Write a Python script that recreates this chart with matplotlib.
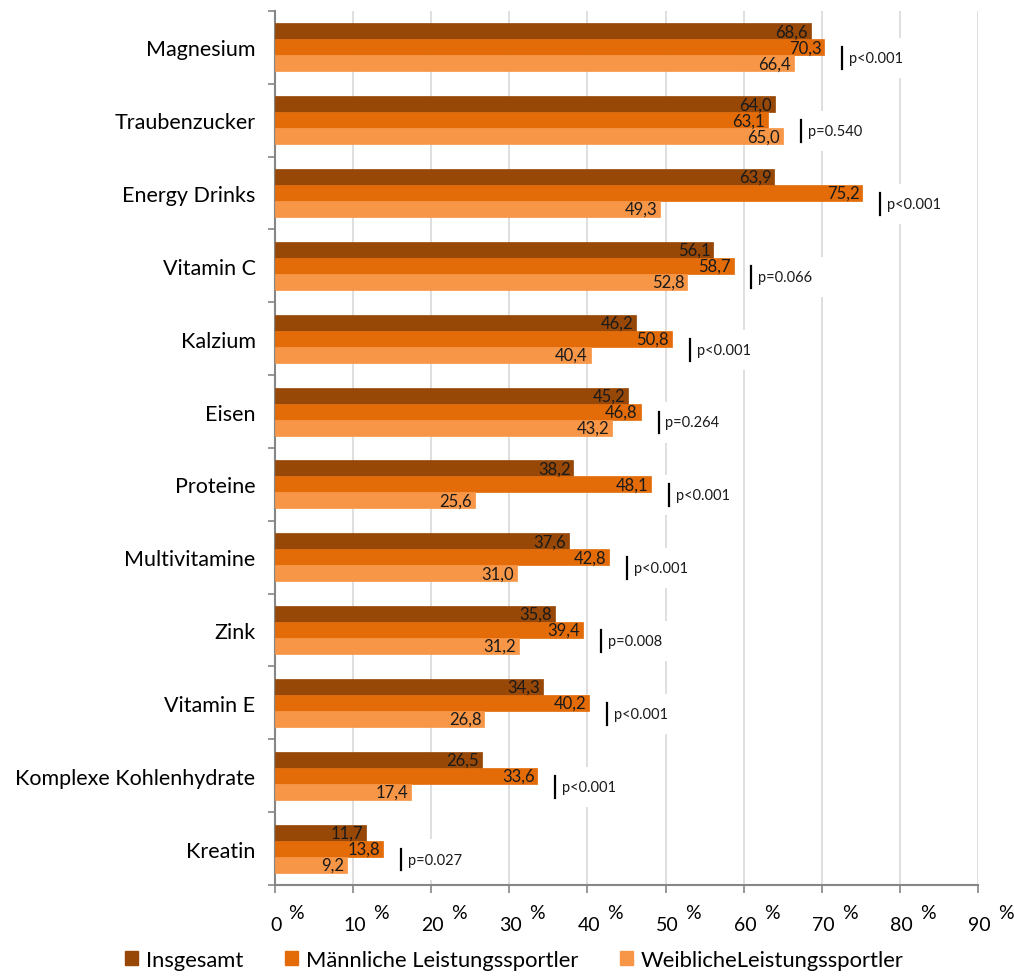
import numpy as np
import matplotlib
matplotlib.use("Agg")
import matplotlib.pyplot as plt
from matplotlib.patches import Patch

plt.rcParams['font.family'] = ['Lato', 'DejaVu Sans']

# Supplement use in percent
categories = ["Magnesium", "Traubenzucker", "Energy Drinks", "Vitamin C", "Kalzium",
              "Eisen", "Proteine", "Multivitamine", "Zink", "Vitamin E",
              "Komplexe Kohlenhydrate", "Kreatin"]
gesamt = [68.6, 64.0, 63.9, 56.1, 46.2, 45.2, 38.2, 37.6, 35.8, 34.3, 26.5, 11.7]
maennlich = [70.3, 63.1, 75.2, 58.7, 50.8, 46.8, 48.1, 42.8, 39.4, 40.2, 33.6, 13.8]
weiblich = [66.4, 65.0, 49.3, 52.8, 40.4, 43.2, 25.6, 31.0, 31.2, 26.8, 17.4, 9.2]
p_values = ["p<0.001", "p=0.540", "p<0.001", "p=0.066", "p<0.001", "p=0.264",
            "p<0.001", "p<0.001", "p=0.008", "p<0.001", "p<0.001", "p=0.027"]
series_names = ["Insgesamt", "Männliche Leistungssportler", "WeiblicheLeistungssportler"]
colors = ["#974706", "#E36C09", "#F79646"]
x_ticks = [0, 10, 20, 30, 40, 50, 60, 70, 80, 90]

fig = plt.figure(figsize=(10.14, 9.79), dpi=100)
ax = fig.add_axes([0.2712, 0.095, 0.6933, 0.8928])

y = np.arange(len(categories))
h = 0.22
for k, vals in enumerate([gesamt, maennlich, weiblich]):
    pos = y + (k - 1) * h
    ax.barh(pos, vals, height=h, color=colors[k], edgecolor=colors[k], lw=0.5, zorder=3)
    for yy, v in zip(pos, vals):
        ax.annotate(f"{v:.1f}".replace(".", ","), (v, yy), xytext=(-2, 0),
                    textcoords="offset points", ha="right", va="center",
                    fontsize=12, color="#1a1a1a", zorder=4)

# significance markers next to each group
for i in range(len(categories)):
    xm = max(gesamt[i], maennlich[i], weiblich[i]) + 2.3
    ax.plot([xm, xm], [i + 0.0, i + 0.3], color="black", lw=1.6, zorder=5)
    ax.annotate(p_values[i], (xm, i + 0.15), xytext=(5, 0), textcoords="offset points",
                ha="left", va="center", fontsize=10.5, color="#1a1a1a", zorder=4,
                bbox=dict(boxstyle="square,pad=0.9", fc="white", ec="none"))

ax.set_xlim(0, 90)
ax.set_ylim(len(categories) - 0.5, -0.5)
ax.set_xticks(x_ticks)
ax.set_xticklabels([])
ax.grid(axis="x", color="#d9d9d9", lw=1.2, zorder=0)
ax.set_yticks(y)
ax.set_yticklabels(categories, fontsize=15.5)
ax.set_yticks(np.arange(len(categories) + 1) - 0.5, minor=True)
ax.tick_params(axis="y", which="major", length=0, pad=14)
ax.tick_params(axis="y", which="minor", length=5, color="#868686", width=1.2)
ax.tick_params(axis="x", length=6, color="#868686", width=1.2)
for s in ["top", "right"]:
    ax.spines[s].set_visible(False)
for s in ["left", "bottom"]:
    ax.spines[s].set_color("#868686")
    ax.spines[s].set_linewidth(1.5)

# tick labels with raised percent sign
for t in x_ticks:
    ax.annotate(str(t), (t, 0), xycoords=("data", "axes fraction"), xytext=(1, -22),
                textcoords="offset points", ha="center", va="top", fontsize=14)
    off = 14.4 if t >= 10 else 9.6
    ax.annotate("%", (t, 0), xycoords=("data", "axes fraction"), xytext=(off, -14),
                textcoords="offset points", ha="left", va="top", fontsize=14)

handles = [Patch(color=c) for c in colors]
fig.legend(handles, series_names, loc="lower center", bbox_to_anchor=(0.507, -0.012),
           ncol=3, frameon=False, fontsize=15.8, handlelength=0.6, handleheight=0.6,
           handletextpad=0.35, columnspacing=1.9)

fig.savefig("out.png", dpi=100)
